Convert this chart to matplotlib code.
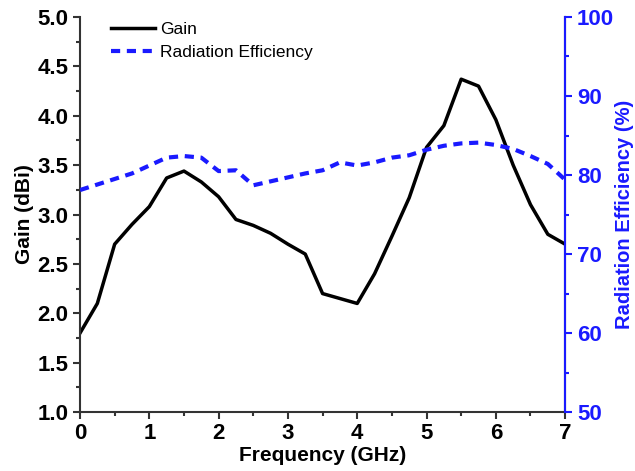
import matplotlib
matplotlib.use("Agg")
import matplotlib.pyplot as plt
from matplotlib.ticker import MultipleLocator

plt.rcParams['font.family'] = ['Liberation Sans', 'DejaVu Sans']

freq = [0, 0.25, 0.5, 0.75, 1.0, 1.25, 1.5, 1.75, 2.0, 2.25, 2.5, 2.75, 3.0, 3.25, 3.5,
        3.75, 4.0, 4.25, 4.5, 4.75, 5.0, 5.25, 5.5, 5.75, 6.0, 6.25, 6.5, 6.75, 7.0]
gain = [1.80, 2.10, 2.70, 2.90, 3.08, 3.37, 3.44, 3.33, 3.18, 2.95, 2.89, 2.81, 2.70, 2.60, 2.20,
        2.15, 2.10, 2.40, 2.78, 3.17, 3.68, 3.90, 4.37, 4.30, 3.96, 3.50, 3.10, 2.80, 2.70]
efficiency = [78.1, 78.8, 79.5, 80.2, 81.2, 82.2, 82.4, 82.2, 80.5, 80.6, 78.7, 79.2, 79.7, 80.2, 80.6,
              81.6, 81.2, 81.6, 82.2, 82.5, 83.2, 83.7, 84.0, 84.1, 83.8, 83.3, 82.4, 81.4, 79.4]

blue = '#1a1aff'

fig = plt.figure(figsize=(6.35, 4.71), dpi=100)
ax = fig.add_axes([0.126, 0.125, 0.764, 0.839])
ax2 = ax.twinx()

l1, = ax.plot(freq, gain, color='black', lw=2.5, label='Gain')
l2, = ax2.plot(freq, efficiency, color=blue, lw=3, ls=(0, (2.2, 1.6)), label='Radiation Efficiency')

ax.set_xlim(0, 7)
ax.set_ylim(1.0, 5.0)
ax2.set_ylim(50, 100)

ax.xaxis.set_major_locator(MultipleLocator(1))
ax.xaxis.set_minor_locator(MultipleLocator(0.5))
ax.yaxis.set_major_locator(MultipleLocator(0.5))
ax.yaxis.set_minor_locator(MultipleLocator(0.25))
ax2.yaxis.set_major_locator(MultipleLocator(10))
ax2.yaxis.set_minor_locator(MultipleLocator(5))
ax.yaxis.set_major_formatter(plt.FormatStrFormatter('%.1f'))

for a in (ax, ax2):
    a.spines['top'].set_visible(False)
    for s in a.spines.values():
        s.set_linewidth(1.5)
ax.spines['left'].set_color('#333333')
ax.spines['bottom'].set_color('#333333')
ax2.spines['right'].set_color(blue)
ax2.spines['left'].set_visible(False)
ax2.spines['bottom'].set_visible(False)

ax.tick_params(axis='both', which='major', direction='out', length=5, width=1.5,
               labelsize=16, color='#333333')
ax.tick_params(axis='both', which='minor', direction='out', length=3, width=1.5, color='#333333')
ax.tick_params(axis='x', pad=3)
ax2.tick_params(axis='y', which='major', direction='out', length=5, width=1.5,
                labelsize=16, colors=blue)
ax2.tick_params(axis='y', which='minor', direction='out', length=3, width=1.5, colors=blue)

for lab in ax.get_xticklabels() + ax.get_yticklabels() + ax2.get_yticklabels():
    lab.set_fontweight('bold')

ax.set_xlabel('Frequency (GHz)', fontsize=15, fontweight='bold', labelpad=1)
ax.set_ylabel('Gain (dBi)', fontsize=15, fontweight='bold', labelpad=2)
ax2.set_ylabel('Radiation Efficiency (%)', fontsize=14.5, fontweight='bold', color=blue, labelpad=1)

ax.legend(handles=[l1, l2], loc='upper left', bbox_to_anchor=(0.05, 1.005), frameon=False,
          fontsize=12.5, handlelength=2.5, handletextpad=0.3, labelspacing=0.45, borderaxespad=0)

fig.savefig('out.png', dpi=100)
